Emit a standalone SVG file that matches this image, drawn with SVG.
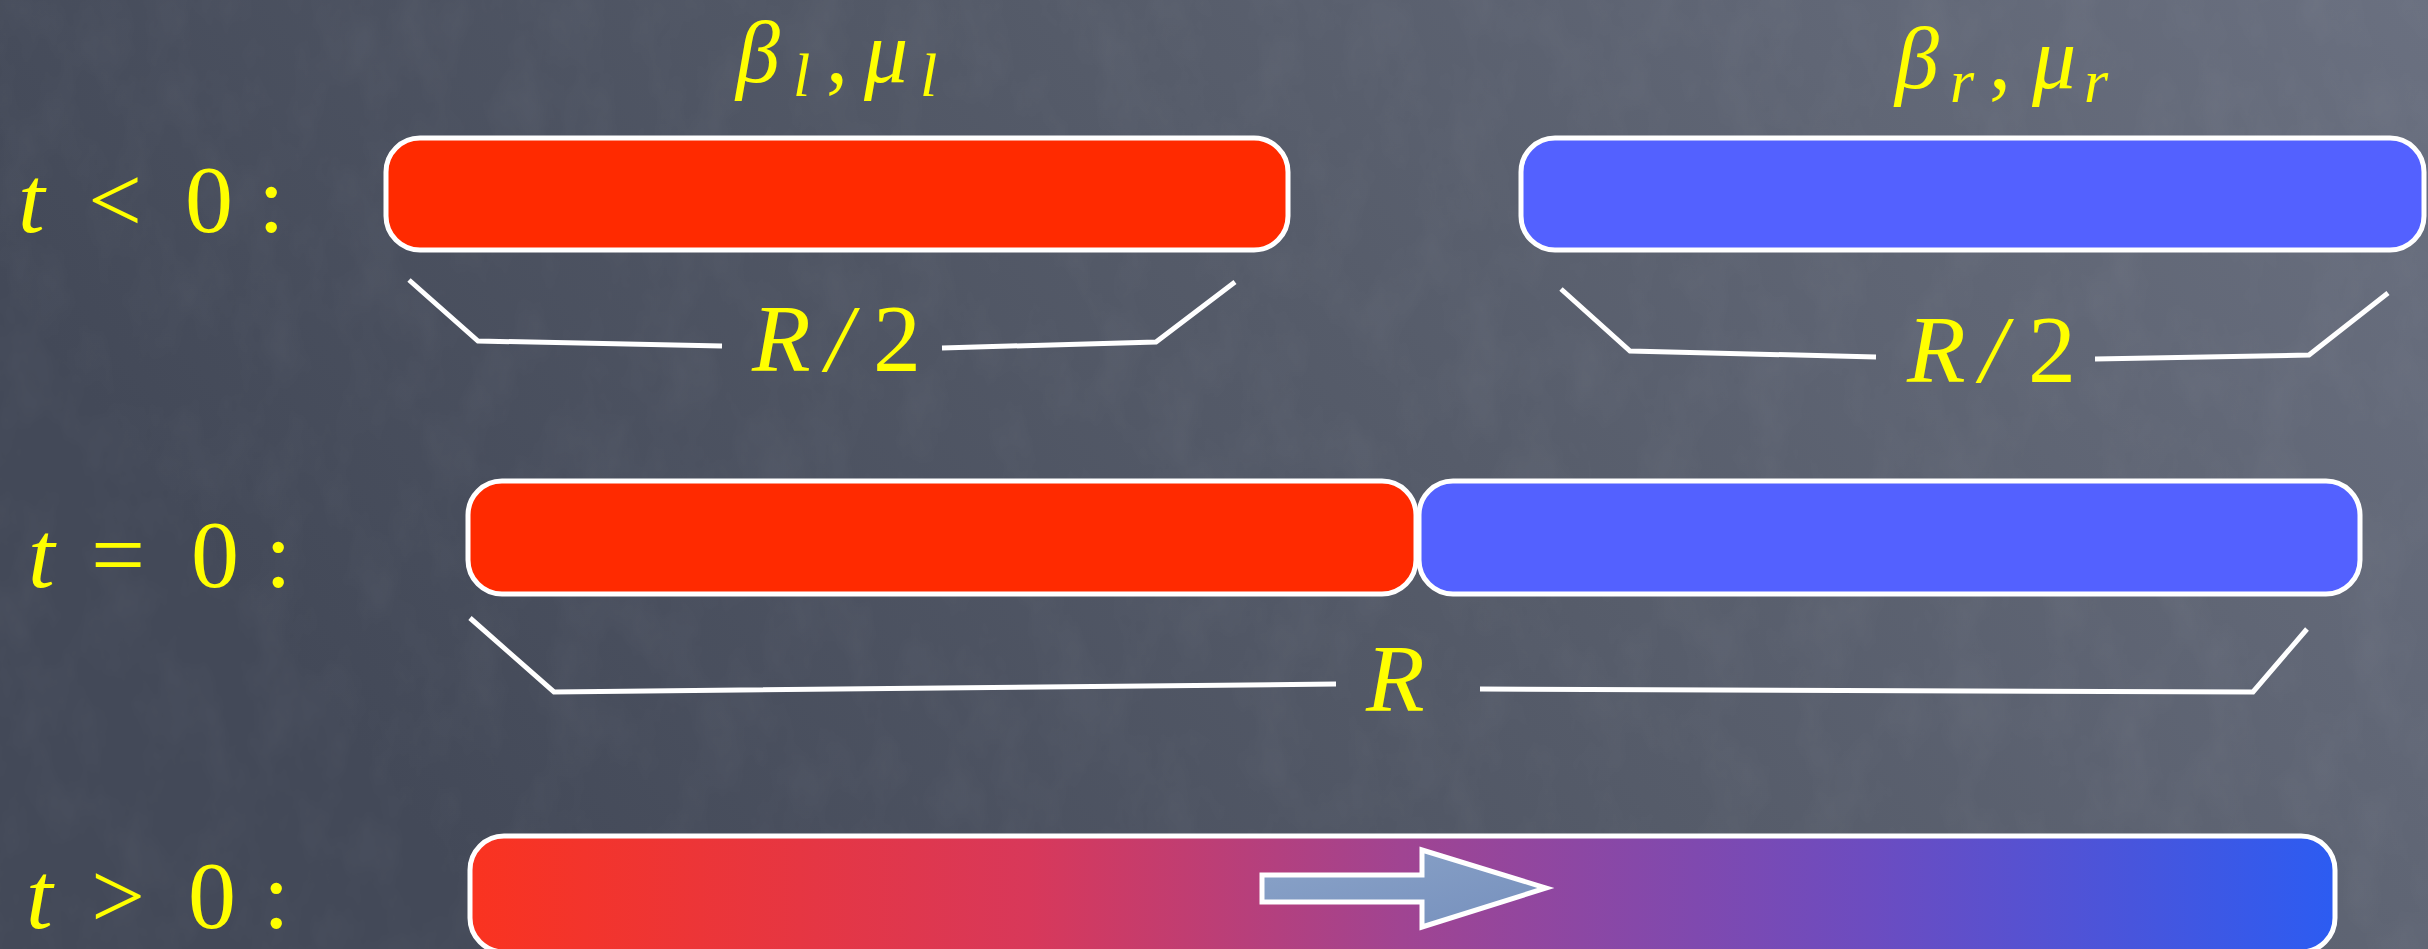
<svg xmlns="http://www.w3.org/2000/svg" width="2428" height="949" viewBox="0 0 2428 949">
<defs>
<linearGradient id="bg" x1="0" y1="0.3" x2="1" y2="0">
<stop offset="0" stop-color="#434958"/>
<stop offset="0.5" stop-color="#565c6a"/>
<stop offset="1" stop-color="#6a7080"/>
</linearGradient>
<linearGradient id="mix" x1="0" y1="0" x2="1" y2="0">
<stop offset="0" stop-color="#fa3320"/>
<stop offset="0.3" stop-color="#d8385a"/>
<stop offset="0.5" stop-color="#a04492"/>
<stop offset="0.75" stop-color="#6c4cc0"/>
<stop offset="1" stop-color="#2c5cf2"/>
</linearGradient>
<linearGradient id="arr" x1="0" y1="0" x2="1" y2="1">
<stop offset="0" stop-color="#8aa3c8"/>
<stop offset="1" stop-color="#7690bd"/>
</linearGradient>
<filter id="chalk" x="0" y="0" width="100%" height="100%">
<feTurbulence type="fractalNoise" baseFrequency="0.02 0.012" numOctaves="4" seed="7"/>
<feColorMatrix type="matrix" values="0 0 0 0 1  0 0 0 0 1  0 0 0 0 1  0.5 0 0 0 -0.2"/>
</filter>
<style>
.bar{stroke:#ffffff;stroke-width:5}
.br{fill:none;stroke:#ffffff;stroke-width:5;stroke-linejoin:miter}
.m{font-family:"Liberation Serif","DejaVu Serif",serif;fill:#ffff00;font-size:96px}
.p{font-size:88px}
.i{font-style:italic}
.sub{font-size:62px;font-style:italic}
</style>
</defs>
<rect width="2428" height="949" fill="url(#bg)"/>
<rect width="2428" height="949" filter="url(#chalk)" opacity="0.14"/>

<g id="connectors">
<polyline class="br" points="409,280 478,341 722,346"/>
<polyline class="br" points="942,348 1156,342 1235,282"/>
<polyline class="br" points="1561,289 1630,351 1876,357"/>
<polyline class="br" points="2095,359 2309,355 2388,293"/>
<polyline class="br" points="470,618 554,692 1336,684"/>
<polyline class="br" points="1480,689 2253,692 2307,629"/>
</g>

<g id="row1-label"><text class="m" y="232"><tspan class="i" x="18">t</tspan><tspan x="88">&lt;</tspan><tspan x="185">0</tspan><tspan x="258">:</tspan></text></g>
<g id="row2-label"><text class="m" y="587"><tspan class="i" x="28">t</tspan><tspan x="91">=</tspan><tspan x="191">0</tspan><tspan x="265">:</tspan></text></g>
<g id="row3-label"><text class="m" y="928"><tspan class="i" x="26">t</tspan><tspan x="91">&gt;</tspan><tspan x="188">0</tspan><tspan x="263">:</tspan></text></g>

<g id="left-params"><text class="m p" y="82"><tspan class="i" x="736">β</tspan><tspan class="sub" x="793" y="96">l</tspan><tspan x="826" y="82">,</tspan><tspan class="i" x="864">μ</tspan><tspan class="sub" x="920" y="96">l</tspan></text></g>
<g id="right-params"><text class="m p" y="88"><tspan class="i" x="1895">β</tspan><tspan class="sub" x="1950" y="102">r</tspan><tspan x="1989" y="88">,</tspan><tspan class="i" x="2032">μ</tspan><tspan class="sub" x="2084" y="102">r</tspan></text></g>

<g id="left-bar"><rect class="bar" x="386" y="138" width="902" height="112" rx="34" fill="#ff2a00"/></g>
<g id="right-bar"><rect class="bar" x="1521" y="138" width="903" height="112" rx="34" fill="#5361ff"/></g>
<g id="left-width"><text class="m" y="371"><tspan class="i" x="752">R</tspan><tspan class="i" x="826">/</tspan><tspan x="873">2</tspan></text></g>
<g id="right-width"><text class="m" y="382"><tspan class="i" x="1907">R</tspan><tspan class="i" x="1980">/</tspan><tspan x="2028">2</tspan></text></g>

<g id="joined-left"><rect class="bar" x="468" y="481" width="948" height="113" rx="34" fill="#ff2a00"/></g>
<g id="joined-right"><rect class="bar" x="1419" y="481" width="941" height="113" rx="34" fill="#5361ff"/></g>
<g id="total-width"><text class="m i" x="1366" y="711">R</text></g>

<g id="mixed-bar"><rect class="bar" x="470" y="836" width="1865" height="116" rx="34" fill="url(#mix)"/></g>
<g id="flow-arrow"><polygon points="1262,875 1422,875 1422,850 1546,888 1422,927 1422,902 1262,902" fill="url(#arr)" stroke="#ffffff" stroke-width="5"/></g>
</svg>
